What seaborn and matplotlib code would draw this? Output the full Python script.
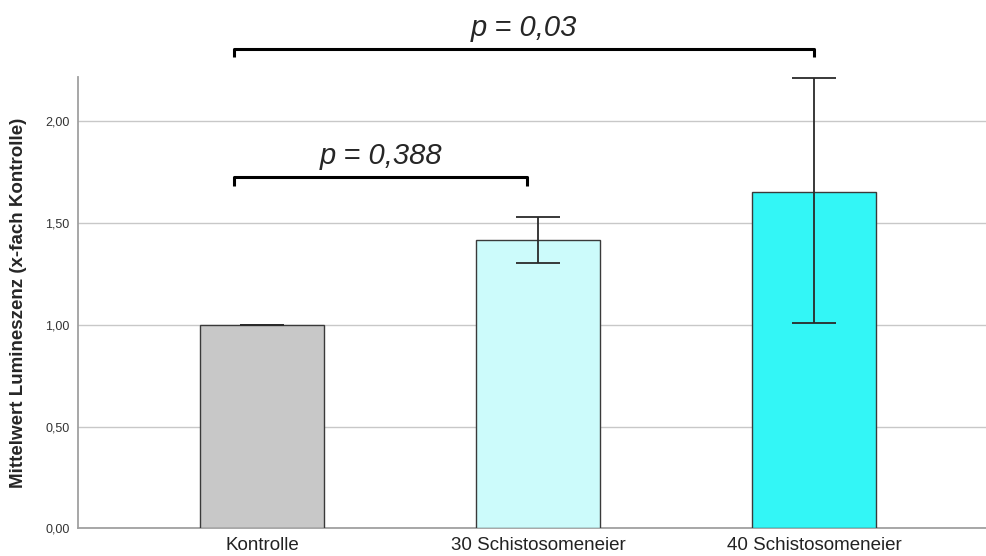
import matplotlib
matplotlib.use("Agg")
import matplotlib.pyplot as plt
import seaborn as sns
import pandas as pd
from matplotlib.ticker import FuncFormatter

# Mittelwerte der Lumineszenz (x-fach Kontrolle) mit Fehlergrenzen
gruppen = ["Kontrolle", "30 Schistosomeneier", "40 Schistosomeneier"]
mittelwert = [1.00, 1.417, 1.652]
fehler_unten = [1.00, 1.304, 1.010]
fehler_oben = [1.00, 1.529, 2.216]
farben = ["#c8c8c8", "#ccfbfb", "#33f6f6"]

vergleiche = [
    # (von, bis, Höhe, Text)
    (-0.1, 0.96, 1.725, "p = 0,388"),
    (-0.1, 2.0, 2.358, "p = 0,03"),
]

sns.set_style("white")
plt.rcParams["font.family"] = ["Liberation Sans", "DejaVu Sans"]

df = pd.DataFrame({"Gruppe": gruppen, "Mittelwert": mittelwert})

fig = plt.figure(figsize=(9.87, 5.56), dpi=100)
ax = fig.add_axes([0.079, 0.05, 0.921, 0.812])

sns.barplot(data=df, x="Gruppe", y="Mittelwert", hue="Gruppe",
            palette=farben, saturation=1, width=0.45, errorbar=None,
            legend=False, edgecolor="#3a3a3a", linewidth=1.0, ax=ax, zorder=3)

xs = range(len(gruppen))
yerr = [[m - u for m, u in zip(mittelwert, fehler_unten)],
        [o - m for m, o in zip(mittelwert, fehler_oben)]]
ax.errorbar(list(xs), mittelwert, yerr=yerr, fmt="none", ecolor="#2a2a2a",
            elinewidth=1.3, capsize=16, capthick=1.3, zorder=4)

ax.set_xlim(-0.667, 2.627)
ax.set_ylim(0, 2.22)
ax.set_yticks([0, 0.5, 1.0, 1.5, 2.0])
ax.yaxis.set_major_formatter(FuncFormatter(lambda v, _: f"{v:.2f}".replace(".", ",")))
ax.grid(axis="y", color="#c8c8c8", linewidth=1.0, zorder=0)
ax.set_axisbelow(True)
ax.tick_params(axis="both", length=0)
ax.tick_params(axis="y", labelsize=9, colors="#333333", pad=6)
ax.tick_params(axis="x", labelsize=13.5, colors="#222222", pad=6)
for s in ["top", "right"]:
    ax.spines[s].set_visible(False)
for s in ["left", "bottom"]:
    ax.spines[s].set_color("#a0a0a0")
    ax.spines[s].set_linewidth(1.3)
ax.set_xlabel("")
ax.set_ylabel("Mittelwert Lumineszenz (x-fach Kontrolle)", fontsize=13.5,
              fontweight="bold", labelpad=13)

# Signifikanzklammern
for x0, x1, h, text in vergleiche:
    d = 0.04
    ax.plot([x0, x0, x1, x1], [h - d, h, h, h - d], color="black",
            linewidth=2.2, clip_on=False, solid_capstyle="butt", zorder=5)
    ax.text((x0 + x1) / 2, h + 0.064, text, ha="center", va="baseline",
            fontsize=21, style="italic", clip_on=False)

fig.savefig("out.png", dpi=100)
